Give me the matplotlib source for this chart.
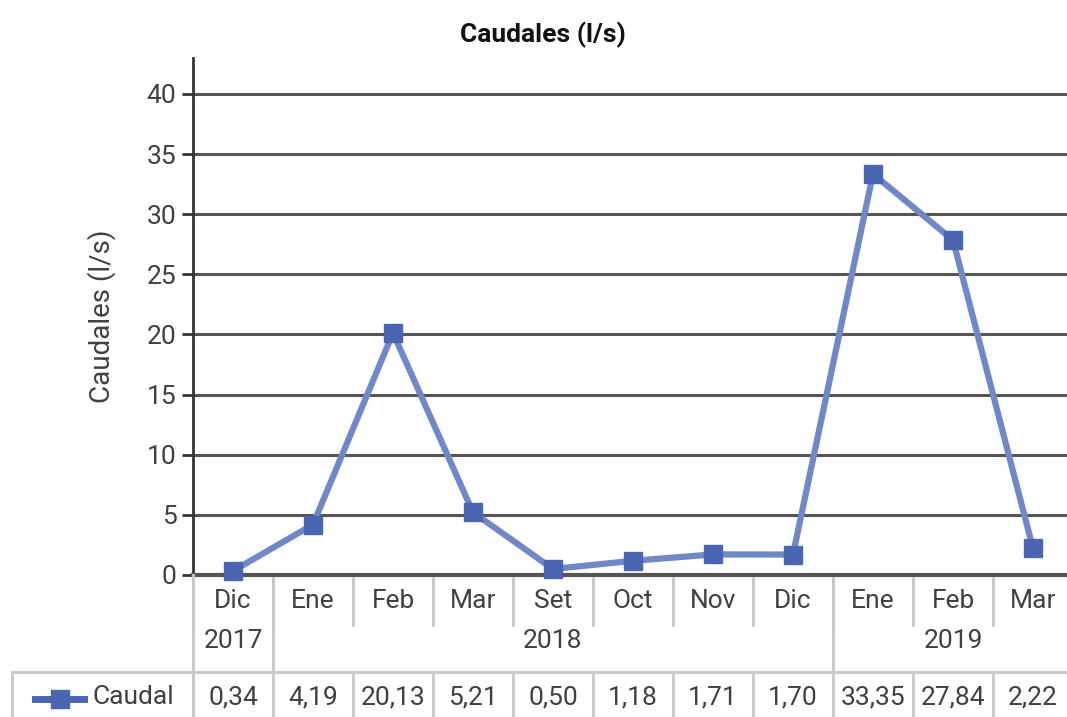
import matplotlib
matplotlib.use("Agg")
import matplotlib.pyplot as plt
import matplotlib.transforms as mtrans
from matplotlib.lines import Line2D

# datos
meses = ['Dic', 'Ene', 'Feb', 'Mar', 'Set', 'Oct', 'Nov', 'Dic', 'Ene', 'Feb', 'Mar']
anios = ['2017', '2018', '2019']
anio_grupos = [(0, 0), (1, 7), (8, 10)]   # indices de mes por anio
caudal = [0.34, 4.19, 20.13, 5.21, 0.50, 1.18, 1.71, 1.70, 33.35, 27.84, 2.22]

plt.rcParams['font.family'] = ['Roboto', 'DejaVu Sans']
texto = '#404040'
azul_linea = '#7088c8'
azul_marca = '#4a66b3'
gris_sep = '#c8c8c8'

W, H = 1067, 717
fig = plt.figure(figsize=(W / 100, H / 100), dpi=100)

def fy(py):
    return 1 - py / H

ax = fig.add_axes([193 / W, fy(575), 880 / W, fy(57.8) - fy(575)])
x = list(range(len(caudal)))
ax.plot(x, caudal, color=azul_linea, lw=4.5, marker='s', ms=13,
        mfc=azul_marca, mec=azul_marca, zorder=3, clip_on=False)

ax.set_xlim(-0.5, len(caudal) - 0.5)
ax.set_ylim(0, 43)
ax.set_yticks(range(0, 41, 5))
ax.set_xticks([])
ax.grid(axis='y', color='#555555', lw=2.2)
ax.set_axisbelow(True)
for s in ['top', 'right']:
    ax.spines[s].set_visible(False)
ax.spines['left'].set_color('#333333')
ax.spines['left'].set_linewidth(2)
ax.spines['bottom'].set_color('#555555')
ax.spines['bottom'].set_linewidth(3)
ax.tick_params(axis='y', labelsize=19, labelcolor=texto, length=8, width=2,
               color='#333333', pad=4)
ax.set_ylabel('Caudales (l/s)', fontsize=20, color=texto, labelpad=22)

fig.text(543 / W, fy(35), 'Caudales (l/s)', ha='center', va='center',
         fontsize=19, fontweight='bold', color='#111111')

# tabla de datos debajo del grafico
tr = mtrans.blended_transform_factory(ax.transData, fig.transFigure)

def vline(xd, y0, y1):
    fig.add_artist(Line2D([xd, xd], [fy(y0), fy(y1)], transform=tr,
                          color=gris_sep, lw=2, clip_on=False))

n = len(caudal)
for i in range(n + 1):
    xb = i - 0.5
    vline(xb, 578, 625)
    vline(xb, 672, 717)
vline(-0.5, 575, 717)
for a, b in anio_grupos[1:]:
    vline(a - 0.5, 578, 672)

fig.add_artist(Line2D([12 / W, 1], [fy(672), fy(672)], transform=fig.transFigure,
                      color=gris_sep, lw=2))
fig.add_artist(Line2D([12 / W, 12 / W], [fy(672), fy(717)], transform=fig.transFigure,
                      color=gris_sep, lw=2))

for i, m in enumerate(meses):
    fig.text(i, fy(601), m, transform=tr, ha='center', va='center',
             fontsize=19, color=texto)
for nombre, (a, b) in zip(anios, anio_grupos):
    fig.text((a + b) / 2, fy(641), nombre, transform=tr, ha='center', va='center',
             fontsize=19, color=texto)
for i, v in enumerate(caudal):
    fig.text(i, fy(697), f'{v:.2f}'.replace('.', ','), transform=tr,
             ha='center', va='center', fontsize=19, color=texto)

# clave de leyenda
fig.add_artist(Line2D([35 / W, 84 / W], [fy(699), fy(699)], transform=fig.transFigure,
                      color=azul_marca, lw=5))
fig.add_artist(Line2D([60 / W], [fy(699)], transform=fig.transFigure,
                      marker='s', ms=13, color=azul_marca))
fig.text(92 / W, fy(697), 'Caudal', ha='left', va='center', fontsize=19, color=texto)

fig.savefig('out.png', dpi=100)
